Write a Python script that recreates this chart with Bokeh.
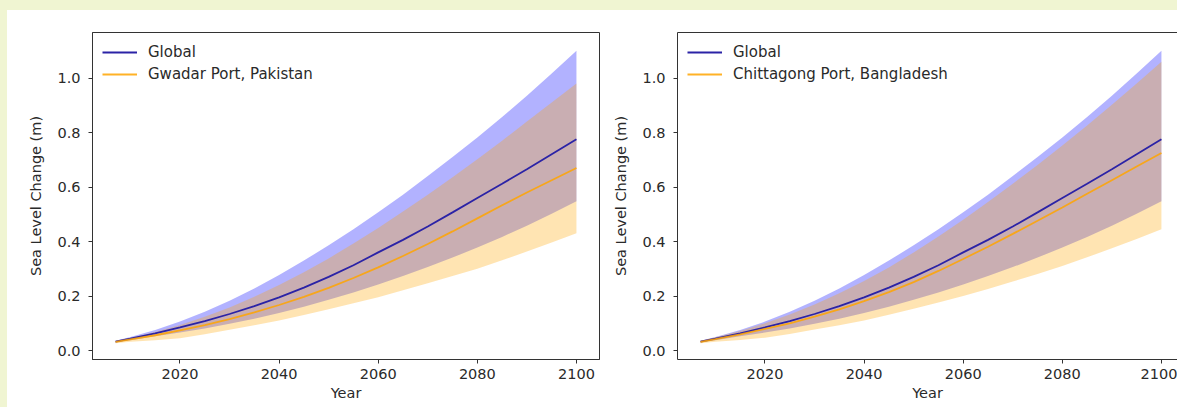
from bokeh.plotting import figure
from bokeh.layouts import row, column, Spacer
from bokeh.models import (Range1d, FixedTicker, NumeralTickFormatter, LinearAxis,
                          Legend, LegendItem)
from bokeh.embed import file_html
from bokeh.resources import INLINE

# ---------------- data ----------------
years = [2007, 2010, 2015, 2020, 2025, 2030, 2035, 2040, 2045, 2050,
         2055, 2060, 2065, 2070, 2075, 2080, 2085, 2090, 2095, 2100]

global_median = [0.033, 0.044, 0.063, 0.085, 0.108, 0.134, 0.163, 0.195, 0.231, 0.270,
                 0.313, 0.360, 0.406, 0.455, 0.507, 0.560, 0.612, 0.665, 0.720, 0.775]
global_lower = [0.030, 0.038, 0.052, 0.066, 0.081, 0.098, 0.117, 0.138, 0.161, 0.186,
                0.213, 0.242, 0.273, 0.306, 0.341, 0.378, 0.417, 0.458, 0.502, 0.548]
global_upper = [0.036, 0.050, 0.075, 0.106, 0.142, 0.183, 0.228, 0.277, 0.330, 0.386,
                0.445, 0.507, 0.572, 0.640, 0.710, 0.782, 0.857, 0.935, 1.017, 1.100]

gwadar_median = [0.032, 0.041, 0.056, 0.074, 0.093, 0.115, 0.140, 0.167, 0.197, 0.230,
                 0.266, 0.305, 0.347, 0.391, 0.437, 0.485, 0.533, 0.580, 0.625, 0.670]
gwadar_lower = [0.027, 0.032, 0.038, 0.045, 0.060, 0.076, 0.093, 0.110, 0.130, 0.151,
                0.173, 0.195, 0.221, 0.247, 0.273, 0.300, 0.331, 0.363, 0.396, 0.430]
gwadar_upper = [0.035, 0.047, 0.068, 0.094, 0.124, 0.158, 0.197, 0.240, 0.287, 0.338,
                0.393, 0.450, 0.510, 0.572, 0.636, 0.702, 0.770, 0.840, 0.910, 0.980]

chitt_median = [0.032, 0.042, 0.059, 0.079, 0.100, 0.124, 0.151, 0.181, 0.214, 0.251,
                0.292, 0.336, 0.381, 0.428, 0.476, 0.525, 0.575, 0.625, 0.675, 0.725]
chitt_lower = [0.027, 0.032, 0.039, 0.047, 0.061, 0.077, 0.093, 0.110, 0.131, 0.153,
               0.176, 0.200, 0.226, 0.253, 0.281, 0.310, 0.342, 0.375, 0.409, 0.445]
chitt_upper = [0.036, 0.049, 0.072, 0.100, 0.132, 0.169, 0.210, 0.255, 0.305, 0.360,
               0.418, 0.480, 0.545, 0.612, 0.681, 0.752, 0.826, 0.902, 0.980, 1.060]

x_ticks = [2020, 2040, 2060, 2080, 2100]
y_ticks = [0.0, 0.2, 0.4, 0.6, 0.8, 1.0]

FONT = "DejaVu Sans"
TXT = "#2a2a2a"
AX = "#333333"
BLUE_LINE = "#2b23a6"
ORANGE = "orange"
PAGE_BG = "#f0f5d2"
FIG_H = 397


def make_panel(local_name, local_median, local_lower, local_upper,
               width, min_left, min_right, x_end, full_outline):
    p = figure(width=width, height=FIG_H, output_backend="svg", toolbar_location=None,
               x_range=Range1d(2002.35, x_end), y_range=Range1d(-0.033, 1.167),
               min_border_left=min_left, min_border_right=min_right,
               min_border_top=22, min_border_bottom=48,
               background_fill_color="white", border_fill_color="white")
    p.grid.visible = False

    p.varea(x=years, y1=global_lower, y2=global_upper, fill_color="blue", fill_alpha=0.3)
    p.varea(x=years, y1=local_lower, y2=local_upper, fill_color=ORANGE, fill_alpha=0.3)
    r_glob = p.line(years, global_median, line_color=BLUE_LINE, line_width=1.8)
    r_loc = p.line(years, local_median, line_color=ORANGE, line_alpha=0.85, line_width=1.8)

    xa = p.below[0]
    ya = p.left[0]
    xa.ticker = FixedTicker(ticks=x_ticks)
    ya.ticker = FixedTicker(ticks=y_ticks)
    ya.formatter = NumeralTickFormatter(format="0.0")
    for ax in (xa, ya):
        ax.axis_line_color = AX
        ax.major_tick_line_color = AX
        ax.major_tick_in = 0
        ax.major_tick_out = 4
        ax.minor_tick_line_color = None
        ax.major_label_text_font = FONT
        ax.major_label_text_font_size = "14.5px"
        ax.major_label_text_color = TXT
        ax.axis_label_text_font = FONT
        ax.axis_label_text_font_size = "14.5px"
        ax.axis_label_text_font_style = "normal"
        ax.axis_label_text_color = TXT
    xa.axis_label = "Year"
    xa.major_label_standoff = 5
    xa.axis_label_standoff = 3
    ya.axis_label = "Sea Level Change (m)"
    ya.major_label_standoff = 8
    ya.axis_label_standoff = 10

    if full_outline:
        p.outline_line_color = AX
        p.outline_line_width = 1
    else:
        p.outline_line_color = None
        top = LinearAxis(ticker=FixedTicker(ticks=[]), major_tick_line_color=None,
                         minor_tick_line_color=None, major_label_text_font_size="0px",
                         major_label_standoff=0, axis_label_standoff=0,
                         axis_line_color=AX)
        p.add_layout(top, "above")

    legend = Legend(items=[LegendItem(label="Global", renderers=[r_glob]),
                           LegendItem(label=local_name, renderers=[r_loc])],
                    location="top_left", margin=5, padding=5, spacing=2,
                    glyph_width=35, glyph_height=20, label_height=20,
                    label_standoff=11, label_text_font=FONT,
                    label_text_font_size="15px", label_text_color=TXT,
                    border_line_alpha=0, background_fill_alpha=0.8)
    p.add_layout(legend)
    return p


p_left = make_panel("Gwadar Port, Pakistan", gwadar_median, gwadar_lower, gwadar_upper,
                    width=601, min_left=85, min_right=9, x_end=2104.65, full_outline=True)
p_right = make_panel("Chittagong Port, Bangladesh", chitt_median, chitt_lower, chitt_upper,
                     width=569, min_left=69, min_right=0, x_end=2103.24, full_outline=False)

top_strip = Spacer(width=1177, height=10, styles={"background-color": PAGE_BG})
left_strip = Spacer(width=7, height=FIG_H, styles={"background-color": PAGE_BG})

p = column(top_strip, row(left_strip, p_left, p_right, spacing=0), spacing=0)

open("out.html", "w").write(file_html(p, INLINE))
